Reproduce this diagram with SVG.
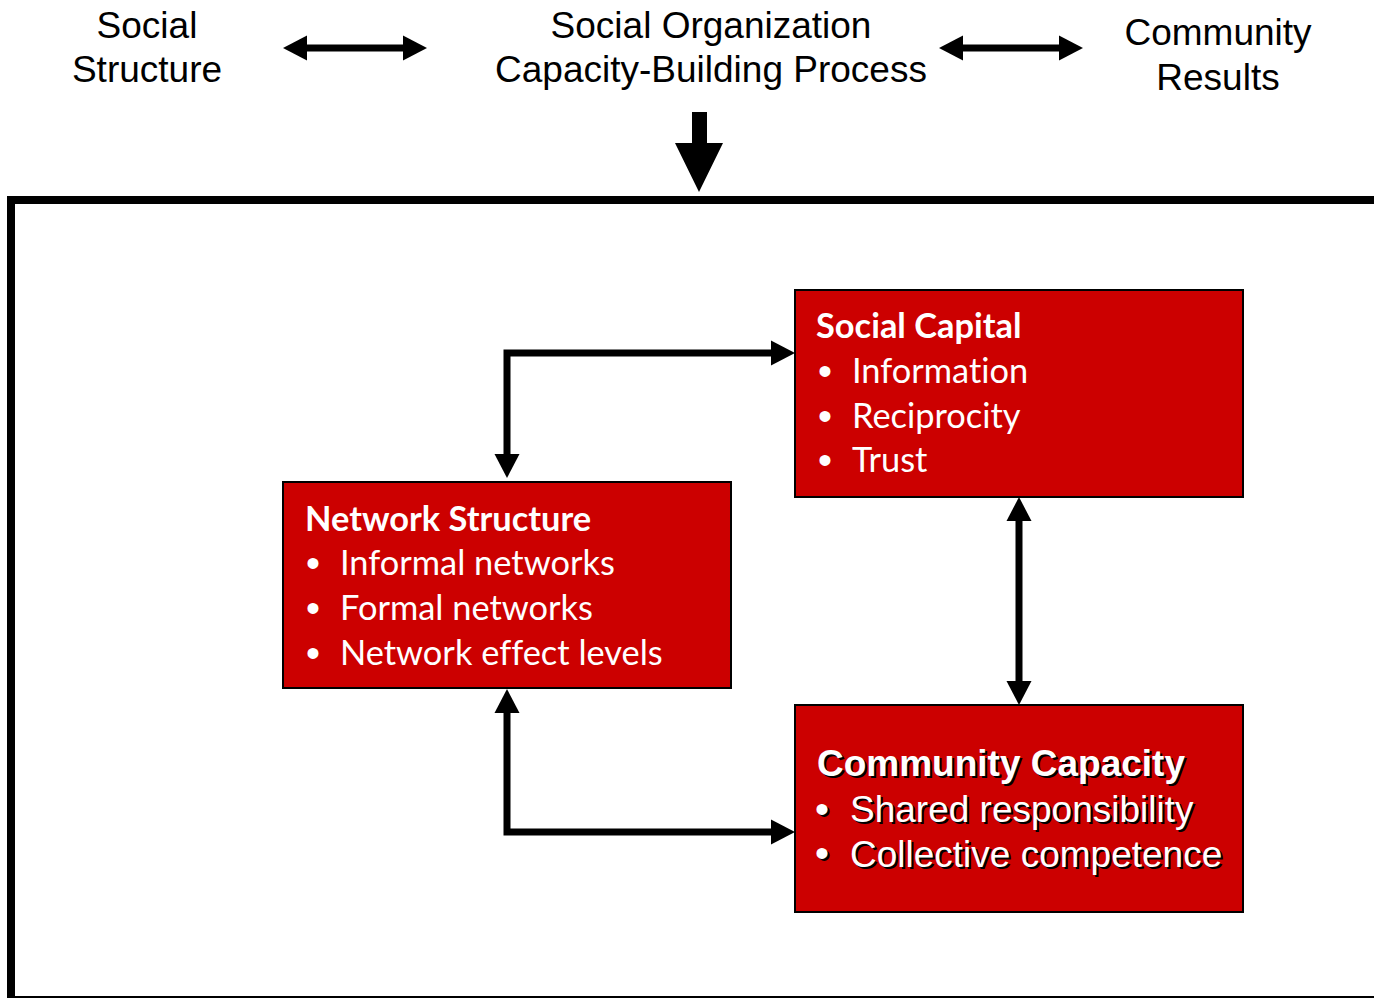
<svg xmlns="http://www.w3.org/2000/svg" width="1374" height="998" viewBox="0 0 1374 998">
<style>
.top{font-family:"Liberation Sans",Arial,sans-serif;font-size:37px;fill:#000;text-anchor:middle}
.box{fill:#CC0000;stroke:#000;stroke-width:2}
.ct{font-family:Lato,"Open Sans",sans-serif;font-size:34.4px;fill:#fff;font-variant-ligatures:none}
.ctb{font-family:Lato,"Open Sans",sans-serif;font-size:34.4px;fill:#fff;font-weight:bold;font-variant-ligatures:none}
.bul{font-family:"Liberation Sans",Arial,sans-serif;font-size:40px;fill:#fff;text-anchor:middle}
.at{font-family:"Liberation Sans",Arial,sans-serif;font-size:37px;fill:#fff}
.atb{font-family:"Liberation Sans",Arial,sans-serif;font-size:37px;fill:#fff;font-weight:bold}
.sh{fill:#000}
.conn{fill:none;stroke:#000;stroke-width:7;stroke-linejoin:miter}
</style>
<defs>
<marker id="ah" markerUnits="userSpaceOnUse" markerWidth="25" markerHeight="25" refX="0" refY="12.5" orient="auto-start-reverse" overflow="visible">
<path d="M0,0 L24,12.5 L0,25 z" fill="#000"/>
</marker>
</defs>
<rect width="1374" height="998" fill="#fff"/>

<g id="social-structure">
<text class="top" x="147" y="38">Social</text>
<text class="top" x="147" y="82">Structure</text>
</g>
<g id="social-organization">
<text class="top" x="711" y="38">Social Organization</text>
<text class="top" x="711" y="82">Capacity-Building Process</text>
</g>
<g id="community-results">
<text class="top" x="1218" y="45">Community</text>
<text class="top" x="1218" y="90">Results</text>
</g>

<rect id="frame" x="11" y="200" width="1400" height="800" fill="none" stroke="#000" stroke-width="8"/>

<g id="connectors">
<path class="conn" d="M307,48 H403" marker-start="url(#ah)" marker-end="url(#ah)"/>
<path class="conn" d="M963,48 H1059" marker-start="url(#ah)" marker-end="url(#ah)"/>
<polygon points="692,112 707,112 707,143 723,143 699,192 675,143 692,143" fill="#000"/>
<path class="conn" d="M507,454 V353 H771" marker-start="url(#ah)" marker-end="url(#ah)"/>
<path class="conn" d="M507,713 V832 H771" marker-start="url(#ah)" marker-end="url(#ah)"/>
<path class="conn" d="M1019,521 V681" marker-start="url(#ah)" marker-end="url(#ah)"/>
</g>

<g id="social-capital">
<rect class="box" x="795" y="290" width="448" height="207"/>
<text class="ctb" x="816" y="338">Social Capital</text>
<text class="bul" x="825" y="385">•</text>
<text class="ct" x="852" y="383">Information</text>
<text class="bul" x="825" y="430">•</text>
<text class="ct" x="852" y="428">Reciprocity</text>
<text class="bul" x="825" y="474">•</text>
<text class="ct" x="852" y="472">Trust</text>
</g>

<g id="network-structure">
<rect class="box" x="283" y="482" width="448" height="206"/>
<text class="ctb" x="305" y="531">Network Structure</text>
<text class="bul" x="313" y="577">•</text>
<text class="ct" x="340" y="575">Informal networks</text>
<text class="bul" x="313" y="622">•</text>
<text class="ct" x="340" y="620">Formal networks</text>
<text class="bul" x="313" y="667">•</text>
<text class="ct" x="340" y="665">Network effect levels</text>
</g>

<g id="community-capacity">
<rect class="box" x="795" y="705" width="448" height="207"/>
<text class="atb sh" x="819" y="778">Community Capacity</text>
<text class="atb" x="817" y="776">Community Capacity</text>
<text class="bul sh" x="824" y="825">•</text>
<text class="bul" x="822" y="823">•</text>
<text class="at sh" x="852" y="824">Shared responsibility</text>
<text class="at" x="850" y="822">Shared responsibility</text>
<text class="bul sh" x="824" y="869">•</text>
<text class="bul" x="822" y="867">•</text>
<text class="at sh" x="852" y="869">Collective competence</text>
<text class="at" x="850" y="867">Collective competence</text>
</g>
</svg>
